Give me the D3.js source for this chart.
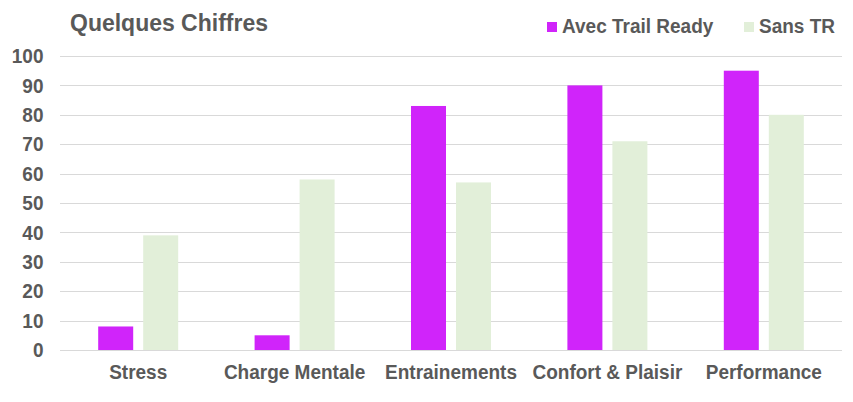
<!DOCTYPE html>
<html><head><meta charset="utf-8">
<script src="https://cdn.jsdelivr.net/npm/d3@7"></script>
<style>body{margin:0;background:#fff}svg{display:block}text{font-family:Arial,"Liberation Sans",sans-serif;font-weight:bold;fill:#595959}</style>
</head><body><svg id="c" width="853" height="402"></svg>
<script>
const categories = ["Stress","Charge Mentale","Entrainements","Confort & Plaisir","Performance"];
const seriesNames = ["Avec Trail Ready","Sans TR"];
const avec = [8,5,83,90,95];
const sans = [39,58,57,71,80];
const yTicks = [0,10,20,30,40,50,60,70,80,90,100];
const colors = ["#D024FA","#E2EFD9"];

const svg = d3.select("#c");
const m = {l:60,r:11,t:56,b:52};
const W=853,H=402;
const x = d3.scaleBand().domain(categories).range([m.l,W-m.r]).paddingInner(0).paddingOuter(0);
const y = d3.scaleLinear().domain([0,100]).range([H-m.b,m.t]);
const barW = 35, gap = 10;
const sy = 1.08;
const tr = (px,py)=>`translate(${px},${py}) scale(1,${sy})`;

svg.append("g").selectAll("line").data(yTicks).join("line")
 .attr("x1",m.l).attr("x2",W-m.r).attr("y1",d=>Math.round(y(d))+0.5).attr("y2",d=>Math.round(y(d))+0.5)
 .attr("stroke","#D9D9D9").attr("stroke-width",1);

svg.append("g").selectAll("text").data(yTicks).join("text")
 .attr("transform",d=>tr(43.5,y(d)+7.2)).attr("text-anchor","end")
 .attr("font-size",19).text(d=>d);

const data = [avec,sans];
data.forEach((vals,si)=>{
  svg.append("g").selectAll("rect").data(vals).join("rect")
   .attr("x",(d,i)=>x(categories[i])+x.bandwidth()/2 - (barW+gap/2) + si*(barW+gap))
   .attr("width",barW)
   .attr("y",d=>y(d)).attr("height",d=>y(0)-y(d))
   .attr("fill",colors[si]);
});

svg.append("g").selectAll("text").data(categories).join("text")
 .attr("transform",d=>tr(x(d)+x.bandwidth()/2,379)).attr("text-anchor","middle")
 .attr("font-size",19).text(d=>d);

svg.append("text").attr("transform",tr(70,31)).attr("font-size",23).text("Quelques Chiffres");

const legX=[547,744];
seriesNames.forEach((n,i)=>{
  svg.append("rect").attr("x",legX[i]).attr("y",22).attr("width",10).attr("height",10).attr("fill",colors[i]);
  svg.append("text").attr("transform",tr(legX[i]+15,33)).attr("font-size",19).text(n);
});
</script></body></html>
